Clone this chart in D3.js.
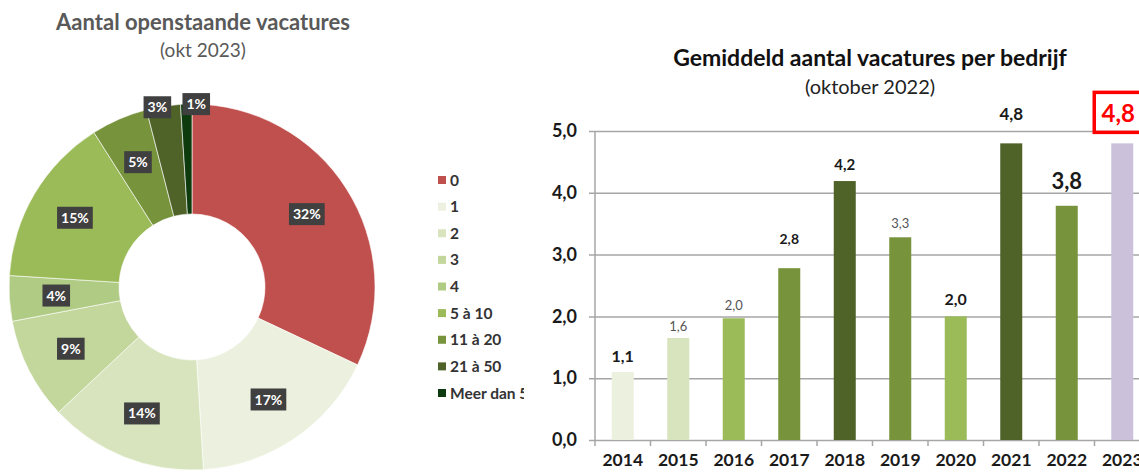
<!DOCTYPE html>
<html>
<head>
<meta charset="utf-8">
<script src="https://cdn.jsdelivr.net/npm/d3@7"></script>
<style>
  html, body { margin: 0; padding: 0; background: #fff; }
  svg { display: block; font-family: Lato, 'Open Sans', sans-serif; }
</style>
</head>
<body>
<svg id="chart" width="1139" height="473"></svg>
<script>
// donut data
const categories = ['0', '1', '2', '3', '4', '5 à 10', '11 à 20', '21 à 50', 'Meer dan 50']
const shares = [32, 17, 14, 9, 4, 15, 5, 3, 1]
const sliceColors = ['#C0504D', '#EBF1DE', '#D7E4BD', '#C3D69B', '#B0CB84', '#9BBB59', '#77933C', '#4F6228', '#0E3B0E']

// bar data
const years = ['2014', '2015', '2016', '2017', '2018', '2019', '2020', '2021', '2022', '2023']
const averages = [1.1, 1.65, 1.97, 2.78, 4.19, 3.28, 2.0, 4.8, 3.79, 4.8]
const valueLabels = ['1,1', '1,6', '2,0', '2,8', '4,2', '3,3', '2,0', '4,8', '3,8', '4,8']
const barColors = ['#EBF1DE', '#D7E4BD', '#9BBB59', '#77933C', '#4F6228', '#77933C', '#9BBB59', '#4F6228', '#77933C', '#CCC1DA']
const yTicks = [0, 1, 2, 3, 4, 5]

// label look per bar (size, weight, colour, gap above bar, sideways shift)
const labelStyles = [
  { size: 16, weight: 'bold', color: '#1a1a1a', gap: 10, dx: 0 },
  { size: 13, weight: 'normal', color: '#555', gap: 7, dx: 0 },
  { size: 13, weight: 'normal', color: '#555', gap: 8, dx: 0 },
  { size: 14, weight: 'bold', color: '#1a1a1a', gap: 24, dx: 0 },
  { size: 15, weight: 'bold', color: '#1a1a1a', gap: 11, dx: 0 },
  { size: 13, weight: 'normal', color: '#555', gap: 9, dx: 0 },
  { size: 16, weight: 'bold', color: '#1a1a1a', gap: 11, dx: 0 },
  { size: 17, weight: 'bold', color: '#1a1a1a', gap: 23, dx: 0 },
  { size: 22, weight: 'bold', color: '#1a1a1a', gap: 17, dx: 0 },
  { size: 24, weight: 'bold', color: '#FF0000', gap: 21, dx: -4 }
]

const svg = d3.select('#chart')

function donut () {
  const cx = 192
  const cy = 287
  const outer = 183
  const inner = 73
  const g = svg.append('g').attr('transform', `translate(${cx}, ${cy})`)

  svg.append('text')
    .attr('x', 203).attr('y', 30)
    .attr('text-anchor', 'middle')
    .attr('font-size', 22).attr('font-weight', 'bold')
    .attr('fill', '#595959')
    .text('Aantal openstaande vacatures')
  svg.append('text')
    .attr('x', 203).attr('y', 57)
    .attr('text-anchor', 'middle')
    .attr('font-size', 19)
    .attr('fill', '#595959')
    .text('(okt 2023)')

  const dataset = categories.map((c, i) => ({ name: c, value: shares[i], color: sliceColors[i] }))
  const pie = d3.pie().sort(null).value(d => d.value)
  const arc = d3.arc().innerRadius(inner).outerRadius(outer)
  const labelArc = d3.arc().innerRadius(136).outerRadius(136)
  const edgeArc = d3.arc().innerRadius(outer).outerRadius(outer)
  const arcs = pie(dataset)

  g.selectAll('path')
    .data(arcs)
    .join('path')
    .attr('d', arc)
    .attr('fill', d => d.data.color)
    .attr('stroke', '#fff')
    .attr('stroke-width', 0.6)

  // small slices get their label on the outer edge, nudged apart
  const nudge = { '21 à 50': [-6, 1], 'Meer dan 50': [10, 0] }
  const labels = g.selectAll('g.lbl')
    .data(arcs)
    .join('g')
    .attr('class', 'lbl')
    .attr('transform', d => {
      const p = d.data.value < 4 ? edgeArc.centroid(d) : labelArc.centroid(d)
      const n = nudge[d.data.name] || [0, 0]
      return `translate(${p[0] + n[0]}, ${p[1] + n[1]})`
    })
  labels.append('text')
    .attr('text-anchor', 'middle')
    .attr('dy', '0.36em')
    .attr('font-size', 14)
    .attr('font-weight', 'bold')
    .attr('fill', '#fff')
    .text(d => d.data.value + '%')
    .each(function () {
      const b = this.getBBox()
      d3.select(this.parentNode).insert('rect', 'text')
        .attr('x', b.x - 4).attr('y', -11)
        .attr('width', b.width + 8).attr('height', 22)
        .attr('fill', '#404040')
    })

  // legend
  const clip = svg.append('clipPath').attr('id', 'legend-clip')
  clip.append('rect').attr('x', 430).attr('y', 160).attr('width', 94).attr('height', 250)
  const legendY = d3.scalePoint().domain(categories).range([180, 393])
  const legend = svg.append('g').attr('clip-path', 'url(#legend-clip)')
    .selectAll('g')
    .data(dataset)
    .join('g')
    .attr('transform', d => `translate(438, ${legendY(d.name)})`)
  legend.append('rect')
    .attr('x', 0).attr('y', -4)
    .attr('width', 8).attr('height', 8)
    .attr('fill', d => d.color)
  legend.append('text')
    .attr('x', 12).attr('dy', '0.36em')
    .attr('font-size', 15.5)
    .attr('font-weight', 'bold')
    .attr('fill', '#333')
    .text(d => d.name)
}

function bars () {
  const margin = { top: 131, bottom: 440, left: 595, right: 1150 }
  const xScale = d3.scaleBand().domain(years).range([margin.left, margin.right]).paddingInner(0).paddingOuter(0)
  const yScale = d3.scaleLinear().domain([0, 5]).range([margin.bottom, margin.top])
  const barWidth = 22

  svg.append('text')
    .attr('x', 870).attr('y', 66)
    .attr('text-anchor', 'middle')
    .attr('font-size', 23).attr('font-weight', 'bold')
    .attr('fill', '#111')
    .text('Gemiddeld aantal vacatures per bedrijf')
  svg.append('text')
    .attr('x', 870).attr('y', 94)
    .attr('text-anchor', 'middle')
    .attr('font-size', 20)
    .attr('fill', '#222')
    .text('(oktober 2022)')

  // grid + y axis
  const axisY = d3.axisLeft(yScale)
    .tickValues(yTicks)
    .tickSize(-(margin.right - margin.left))
    .tickSizeOuter(0)
    .tickPadding(18)
    .tickFormat(d => d3.format('.1f')(d).replace('.', ','))
  const gy = svg.append('g')
    .attr('transform', `translate(${margin.left}, 0)`)
    .call(axisY)
  gy.select('.domain').remove()
  gy.selectAll('line')
    .attr('x1', -6)
    .attr('stroke', '#A6A6A6')
    .attr('stroke-width', 1.5)
  gy.selectAll('text')
    .attr('font-family', 'Lato, sans-serif')
    .attr('font-size', 18)
    .attr('font-weight', 'bold')
    .attr('fill', '#1a1a1a')
  svg.append('line')
    .attr('x1', margin.left).attr('x2', margin.left)
    .attr('y1', margin.top).attr('y2', margin.bottom + 6)
    .attr('stroke', '#A6A6A6').attr('stroke-width', 1.5)

  // bars
  svg.append('g')
    .selectAll('rect')
    .data(averages)
    .join('rect')
    .attr('x', (d, i) => xScale(years[i]) + (xScale.bandwidth() - barWidth) / 2)
    .attr('y', d => yScale(d))
    .attr('width', barWidth)
    .attr('height', d => yScale(0) - yScale(d))
    .attr('fill', (d, i) => barColors[i])

  // x axis
  const axisX = d3.axisBottom(xScale).tickSize(0).tickPadding(14)
  const gx = svg.append('g')
    .attr('transform', `translate(0, ${margin.bottom})`)
    .call(axisX)
  gx.select('.domain').remove()
  gx.selectAll('text')
    .attr('font-family', 'Lato, sans-serif')
    .attr('font-size', 17.5)
    .attr('font-weight', 'bold')
    .attr('fill', '#1a1a1a')
  svg.append('g')
    .selectAll('line')
    .data(years)
    .join('line')
    .attr('x1', d => xScale(d) + xScale.bandwidth()).attr('x2', d => xScale(d) + xScale.bandwidth())
    .attr('y1', margin.bottom).attr('y2', margin.bottom + 6)
    .attr('stroke', '#A6A6A6').attr('stroke-width', 1.5)

  // value labels
  svg.append('g')
    .selectAll('text')
    .data(averages)
    .join('text')
    .attr('x', (d, i) => xScale(years[i]) + xScale.bandwidth() / 2 + labelStyles[i].dx)
    .attr('y', (d, i) => yScale(d) - labelStyles[i].gap)
    .attr('text-anchor', 'middle')
    .attr('font-size', (d, i) => labelStyles[i].size)
    .attr('font-weight', (d, i) => labelStyles[i].weight)
    .attr('fill', (d, i) => labelStyles[i].color)
    .text((d, i) => valueLabels[i])

  // highlight box around latest value
  const last = years[years.length - 1]
  const bx = xScale(last) + xScale.bandwidth() / 2
  svg.append('rect')
    .attr('x', bx - 28).attr('y', yScale(averages[averages.length - 1]) - 51)
    .attr('width', 56).attr('height', 40)
    .attr('fill', 'none')
    .attr('stroke', '#FF0000')
    .attr('stroke-width', 3.5)
}

donut()
bars()
</script>
</body>
</html>
